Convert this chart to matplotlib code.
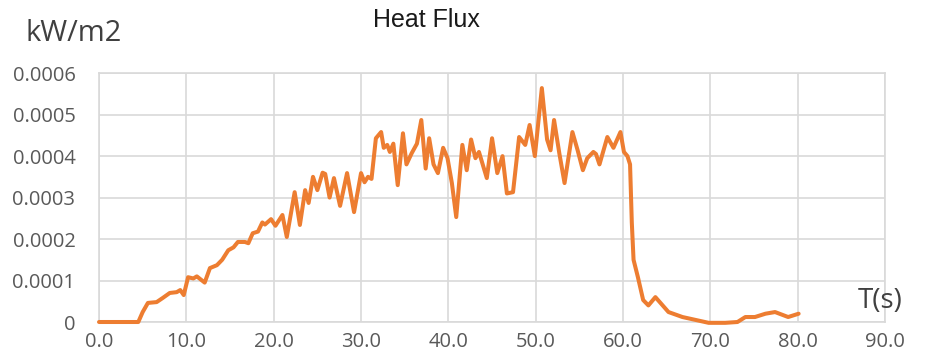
import matplotlib.pyplot as plt

# heat flux sensor record, time in s, flux in kW/m2
time_s = [0.0, 2.0, 4.5, 5.0, 5.6, 6.6, 7.3, 8.1, 8.9, 9.3, 9.7, 10.2, 10.8, 11.2, 12.1,
          12.7, 13.5, 14.1, 14.8, 15.4, 15.9, 16.7, 17.1, 17.6, 18.2, 18.7, 19.0, 19.7,
          20.2, 21.0, 21.5, 22.4, 23.0, 23.6, 24.0, 24.5, 25.0, 25.6, 25.9, 26.4, 26.9,
          27.6, 28.4, 29.2, 30.0, 30.4, 30.8, 31.2, 31.7, 32.3, 32.6, 33.0, 33.3, 33.7,
          34.2, 34.8, 35.2, 35.8, 36.4, 36.9, 37.4, 37.8, 38.3, 38.8, 39.4, 39.9, 40.4,
          40.9, 41.6, 42.1, 42.6, 43.1, 43.5, 44.4, 45.0, 45.6, 46.2, 46.7, 47.4, 48.1,
          48.8, 49.3, 49.9, 50.7, 51.3, 51.7, 52.1, 52.7, 53.3, 54.2, 54.8, 55.4, 55.9,
          56.6, 56.9, 57.3, 58.2, 58.9, 59.7, 60.1, 60.5, 60.8, 61.0, 61.2, 61.7, 62.3,
          62.9, 63.7, 64.2, 65.2, 66.8, 68.3, 69.8, 71.7, 73.1, 74.0, 75.1, 76.3, 77.4,
          78.9, 80.1]
heat_flux = [0.0, 0.0, 0.0, 0.000024, 0.000046, 0.000048, 0.000058, 0.00007, 0.000072,
             0.000077, 0.000065, 0.000108, 0.000105, 0.00011, 0.000095, 0.00013, 0.000137,
             0.00015, 0.000173, 0.00018, 0.000193, 0.000193, 0.00019, 0.000214, 0.000218,
             0.00024, 0.000235, 0.000248, 0.000232, 0.000258, 0.000205, 0.000313, 0.000234,
             0.000318, 0.000287, 0.00035, 0.000318, 0.00036, 0.000357, 0.0003, 0.000347,
             0.00028, 0.000359, 0.000265, 0.000359, 0.000337, 0.00035, 0.000345, 0.000443,
             0.000458, 0.00042, 0.000427, 0.00041, 0.00043, 0.00033, 0.000455, 0.00038,
             0.000407, 0.00043, 0.000487, 0.00037, 0.000443, 0.00038, 0.000359, 0.00042,
             0.000395, 0.000335, 0.000253, 0.000427, 0.000366, 0.00044, 0.000395, 0.00041,
             0.000347, 0.000443, 0.000359, 0.0004, 0.00031, 0.000313, 0.000446, 0.000427,
             0.000475, 0.0004, 0.000564, 0.00044, 0.000414, 0.000487, 0.000407, 0.000335,
             0.000458, 0.000414, 0.000366, 0.000395, 0.00041, 0.000405, 0.00038, 0.000446,
             0.00042, 0.000458, 0.00041, 0.0004, 0.00038, 0.00024, 0.00015, 0.000108,
             0.000053, 0.00004, 0.00006, 0.000048, 0.000024, 0.000012, 0.000005, -0.000002,
             -0.000002, 0.0, 0.000012, 0.000012, 0.00002, 0.000024, 0.000012, 0.00002]

x_ticks = [0, 10, 20, 30, 40, 50, 60, 70, 80, 90]
y_ticks = [0, 0.0001, 0.0002, 0.0003, 0.0004, 0.0005, 0.0006]
y_labels = ['0', '0.0001', '0.0002', '0.0003', '0.0004', '0.0005', '0.0006']

plt.rcParams['font.family'] = ['Open Sans', 'DejaVu Sans']

fig = plt.figure(figsize=(9.27, 3.56), dpi=100)
ax = fig.add_axes([0.1068, 0.0955, 0.848, 0.699])

ax.plot(time_s, heat_flux, color='#ED7D31', lw=2.9, solid_joinstyle='round',
        solid_capstyle='round', clip_on=False, zorder=3)

ax.set_xlim(0, 90)
ax.set_ylim(0, 0.0006)
ax.set_xticks(x_ticks)
ax.set_xticklabels([f'{v:.1f}' for v in x_ticks])
ax.set_yticks(y_ticks)
ax.set_yticklabels(y_labels)
ax.tick_params(length=0, labelsize=14.5, labelcolor='#595959')
ax.tick_params(axis='x', pad=7)
ax.tick_params(axis='y', pad=17)
ax.grid(True, color='#d9d9d9', lw=1.2)
ax.set_axisbelow(True)
for s in ax.spines.values():
    s.set_color('#d9d9d9')
    s.set_linewidth(1.2)

fig.text(0.46, 0.944, 'Heat Flux', ha='center', va='center', fontsize=18,
         color='#1a1a1a', family='Liberation Sans')
fig.text(0.027, 0.905, 'kW/m2', ha='left', va='center', fontsize=21, color='#404040')
fig.text(0.925, 0.155, 'T(s)', ha='left', va='center', fontsize=20, color='#404040')

fig.savefig('out.png', dpi=100)
